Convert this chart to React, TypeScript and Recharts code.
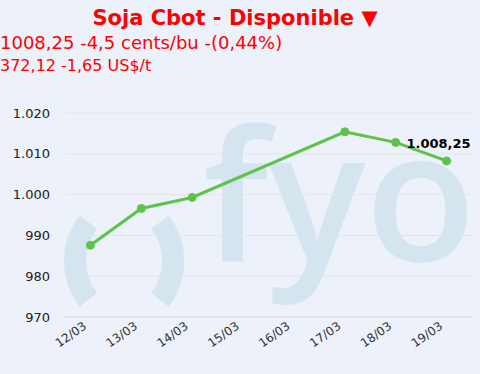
import React from 'react';
import { LineChart, Line, XAxis, YAxis, CartesianGrid } from 'recharts';

// fechas (15/03 y 16/03 sin cotización)
const dates = ['12/03', '13/03', '14/03', '15/03', '16/03', '17/03', '18/03', '19/03'];
const prices: (number | null)[] = [987.6, 996.6, 999.3, null, null, 1015.4, 1012.8, 1008.25];
const yTicks = [970, 980, 990, 1000, 1010, 1020];
const boundaryTicks = [0, 1, 2, 3, 4, 5, 6, 7, 8];

const data = dates.map((d, i) => ({ fecha: d, precio: prices[i] }));

const FONT = '"DejaVu Sans", Verdana, sans-serif';
const GREEN = '#5fc24a';
const WM = '#d5e5ef';

const fmtY = (v: number) => v.toLocaleString('de-DE');
const fmtPrice = (v: number) =>
  v.toLocaleString('de-DE', { minimumFractionDigits: 2, maximumFractionDigits: 2 });

const LastLabel = (props: any) => {
  const { x, y, value, index } = props;
  if (index !== prices.length - 1 || value == null) return null;
  return (
    <text x={x + 24} y={y - 13} textAnchor="end" fontFamily={FONT} fontSize={13}
      fontWeight="bold" fill="#000">
      {fmtPrice(value)}
    </text>
  );
};

export default function App() {
  return (
    <div style={{ position: 'absolute', left: 0, top: 0, width: 480, height: 374,
      background: '#edf1f9', overflow: 'hidden', fontFamily: FONT }}>
      {/* marca de agua */}
      <svg width={480} height={374} style={{ position: 'absolute', left: 0, top: 0 }}>
        <g fill="none" stroke={WM} strokeWidth={22}>
          <path d="M 88.4 222.2 A 63 63 0 0 0 88.4 299.8" />
          <path d="M 159.9 222.2 A 63 63 0 0 1 159.9 299.8" />
        </g>
        <text x={203} y={261} fontFamily='"Open Sans", sans-serif' fontSize={181}
          fontWeight={600} fill={WM}>fyo</text>
      </svg>

      <div style={{ position: 'absolute', left: 0, width: 470, top: 8, textAlign: 'center',
        fontSize: 21, lineHeight: '21px', fontWeight: 'bold', color: '#ff0000' }}>
        Soja Cbot - Disponible ▼
      </div>
      <div style={{ position: 'absolute', left: 0, top: 34, fontSize: 18, lineHeight: '18px',
        color: '#ff0000', whiteSpace: 'nowrap' }}>
        1008,25 -4,5 cents/bu -(0,44%)
      </div>
      <div style={{ position: 'absolute', left: 0, top: 58, fontSize: 16, lineHeight: '16px',
        color: '#ff0000', whiteSpace: 'nowrap' }}>
        372,12 -1,65 US$/t
      </div>

      <div style={{ position: 'absolute', left: 0, top: 0 }}>
        <LineChart width={480} height={374} data={data}
          margin={{ top: 113, right: 8, left: 0, bottom: 0 }}>
          <CartesianGrid xAxisId="b_fechas" vertical={false} stroke="#e3e5e9" />
          <XAxis xAxisId="a_marcas" type="number" domain={[0, 8]} ticks={boundaryTicks}
            height={1} tick={false} tickSize={5} axisLine={{ stroke: '#d8dce2' }}
            tickLine={{ stroke: '#d8dce2' }} allowDataOverflow />
          <XAxis xAxisId="b_fechas" dataKey="fecha" scale="band" interval={0} height={56}
            axisLine={false} tickLine={false} tickSize={0} angle={-35} textAnchor="end"
            tickMargin={3}
            tick={{ fontFamily: FONT, fontSize: 12, fill: '#333', dx: -8 }} />
          <YAxis domain={[970, 1020]} ticks={yTicks} width={65} axisLine={false}
            tickLine={false} tickSize={0} tickMargin={15} tickFormatter={fmtY}
            tick={{ fontFamily: FONT, fontSize: 13, fill: '#222' }} />
          <Line xAxisId="b_fechas" dataKey="precio" stroke={GREEN} strokeWidth={3} connectNulls
            dot={{ r: 4, fill: GREEN, stroke: GREEN, strokeWidth: 1 }}
            label={<LastLabel />} isAnimationActive={false} />
        </LineChart>
      </div>
    </div>
  );
}
